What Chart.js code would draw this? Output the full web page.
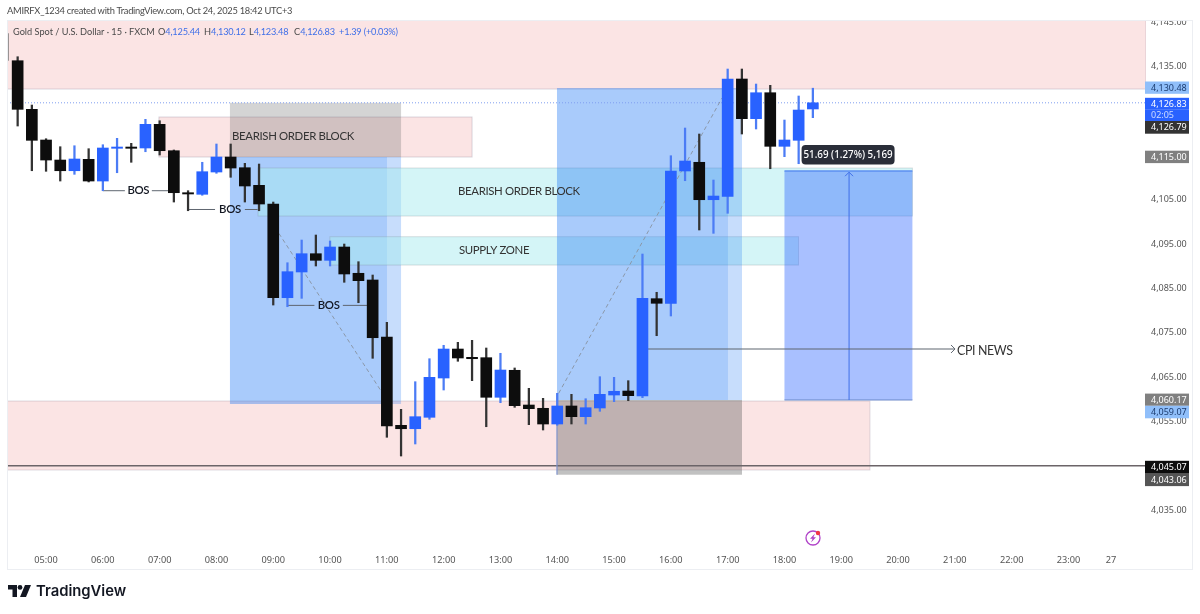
<!DOCTYPE html>
<html>
<head>
<meta charset="utf-8">
<title>Gold Spot / U.S. Dollar</title>
<script src="https://cdn.jsdelivr.net/npm/chart.js@4"></script>
<style>
    html, body { margin: 0; background: #fff; }
    #wrap { position: relative; width: 1200px; height: 614px; overflow: hidden; font-family: Lato, sans-serif; }
    canvas { position: absolute; left: 0; top: 0; }
    .line { position: absolute; white-space: nowrap; }
    #creator { left: 7px; top: 5px; font-size: 9.3px; letter-spacing: -0.25px; color: #4a4a4a; }
    .legend { top: 25.5px; font-size: 9.2px; color: #4a4a4a; }
    .legend b { font-weight: 400; color: #3f6fe8; letter-spacing: -0.2px; }
    #brand { left: 36px; top: 582px; font-family: Inter, sans-serif; font-size: 14.8px; font-weight: 600; color: #131722; }
    #logo { position: absolute; left: 8px; top: 585px; }
</style>
</head>
<body>
<div id="wrap">
    <canvas id="goldChart" width="1200" height="614"></canvas>
    <div class="line" id="creator">AMIRFX_1234 created with TradingView.com, Oct 24, 2025 18:42 UTC+3</div>
    <div class="line legend" style="left:13px">Gold Spot / U.S. Dollar · 15 · FXCM</div>
    <div class="line legend" style="left:158px">O<b>4,125.44</b></div>
    <div class="line legend" style="left:204px">H<b>4,130.12</b></div>
    <div class="line legend" style="left:249px">L<b>4,123.48</b></div>
    <div class="line legend" style="left:294px">C<b>4,126.83</b></div>
    <div class="line legend" style="left:339px"><b>+1.39 (+0.03%)</b></div>
    <svg id="logo" width="23" height="12" viewBox="0 0 23 12"><path d="M0 0h9v12H4.5V4.5H0z" fill="#131722"/><circle cx="12" cy="2.4" r="2.4" fill="#131722"/><path d="M17 0h6l-5 12h-6z" fill="#131722"/></svg>
    <div class="line" id="brand">TradingView</div>
</div>
<script>
const candleIndex = [0,1,2,3,4,5,6,7,8,9,10,11,12,13,14,15,16,17,18,19,20,21,22,23,24,25,26,27,28,29,30,31,32,33,34,35,36,37,38,39,40,41,42,43,44,45,46,47,48,49,50,51,52,53,54,55,56];
const opens = [4136.31,4125.36,4118.45,4113.94,4111.53,4114.10,4109.21,4116.58,4116.87,4116.65,4121.98,4116.04,4106.58,4106.22,4111.24,4114.62,4112.21,4108.24,4104.03,4082.93,4088.72,4092.84,4091.35,4094.35,4088.43,4086.92,4074.08,4054.19,4053.42,4055.99,4064.84,4071.37,4069.50,4069.42,4060.50,4066.58,4058.76,4058.02,4054.48,4058.54,4056.13,4058.09,4061.01,4061.91,4060.79,4082.71,4081.67,4111.47,4113.43,4105.00,4105.77,4132.19,4123.25,4129.10,4117.03,4118.38,4125.44];
const highs = [4137.21,4126.33,4118.74,4116.94,4117.16,4116.49,4117.39,4118.83,4117.70,4123.11,4122.79,4116.20,4107.03,4113.43,4117.55,4117.55,4113.20,4113.04,4104.48,4090.81,4095.92,4097.05,4095.70,4095.02,4091.04,4088.04,4077.39,4057.79,4064.01,4069.19,4072.21,4072.88,4073.33,4071.60,4070.41,4067.10,4062.52,4060.27,4061.40,4061.17,4060.18,4065.14,4065.00,4064.24,4092.77,4084.15,4114.91,4121.15,4119.80,4109.44,4134.44,4134.44,4131.06,4130.77,4122.95,4128.36,4130.12];
const lows = [4121.60,4111.53,4111.40,4109.21,4110.72,4109.00,4107.03,4111.08,4113.43,4115.81,4115.07,4104.48,4102.52,4106.00,4110.95,4110.05,4104.48,4102.52,4081.28,4080.90,4082.79,4090.07,4090.07,4086.40,4081.80,4069.28,4051.49,4047.27,4049.98,4055.54,4062.14,4068.61,4064.24,4053.87,4059.28,4058.24,4054.33,4053.13,4054.20,4054.48,4054.48,4057.34,4059.51,4059.73,4060.41,4074.37,4078.81,4109.28,4098.18,4097.43,4101.94,4119.80,4120.93,4111.98,4114.69,4113.11,4123.48];
const closes = [4125.36,4118.38,4113.94,4111.53,4114.17,4109.21,4116.65,4116.87,4116.58,4121.98,4116.04,4106.58,4106.29,4111.31,4114.62,4112.14,4108.09,4104.03,4082.93,4088.79,4092.84,4091.35,4094.35,4088.27,4086.76,4073.92,4054.03,4053.42,4056.13,4065.00,4071.37,4069.35,4069.19,4060.50,4066.64,4058.61,4057.93,4054.48,4058.54,4056.13,4058.15,4061.17,4061.85,4060.86,4082.79,4081.67,4111.47,4113.72,4105.00,4105.83,4132.19,4123.25,4129.10,4117.03,4118.45,4125.20,4126.83];

const timeTicks = [2,6,10,14,18,22,26,30,34,38,42,46,50,54,58,62,66,70,74,77];
const timeLabels = ['05:00','06:00','07:00','08:00','09:00','10:00','11:00','12:00','13:00','14:00','15:00','16:00','17:00','18:00','19:00','20:00','21:00','22:00','23:00','27'];
const priceTicks = [4145,4135,4105,4095,4085,4075,4065,4055,4035];

// drawings, in bar index and price: x0, x1, price top, price bottom, fill, edge
const zones = [
    [-0.75, 79.46, 4146, 4129.93, 'rgba(225,50,50,0.13)', 'rgba(150,140,160,0.35)'],
    [-0.75, 60.02, 4059.66, 4044.12, 'rgba(225,50,50,0.13)', 'rgba(150,140,160,0.3)'],
    [9.95, 32, 4123.63, 4114.62, 'rgba(225,50,50,0.13)', 'rgba(150,140,160,0.35)'],
    [14.95, 27, 4114.62, 4058.99, 'rgba(33,120,243,0.25)', null],
    [14.95, 26.01, 4114.62, 4058.99, 'rgba(33,120,243,0.18)', null],
    [16.93, 63.01, 4112.14, 4101.33, 'rgba(169,235,239,0.5)', 'rgba(120,130,140,0.25)'],
    [21.99, 54.99, 4096.67, 4090.29, 'rgba(169,235,239,0.5)', 'rgba(120,130,140,0.25)'],
    [37.98, 51.01, 4130.16, 4059.89, 'rgba(33,120,243,0.25)', null],
    [37.98, 50.02, 4130.16, 4059.89, 'rgba(33,120,243,0.18)', null],
    [14.95, 27, 4126.83, 4114.62, 'rgba(100,100,100,0.28)', null],
    [37.98, 51.01, 4059.89, 4043.06, 'rgba(100,100,100,0.4)', null],
    [54, 63.01, 4111.47, 4059.89, 'rgba(41,98,255,0.4)', null]
];
// x0, price0, x1, price1, colour, width, dash
const segments = [
    [-0.75, 4126.83, 79.46, 4126.83, '#7f9ff0', 1, [1, 2]],
    [-0.75, 4045.07, 79.46, 4045.07, '#6b6468', 1.6, []],
    [-0.68, 4142.5, -0.68, 4136.3, '#777', 1.5, []],
    [18.4, 4097.4, 25.9, 4060.4, '#8a97a8', 1, [4, 3]],
    [38.1, 4061.4, 49.6, 4127.9, '#8a97a8', 1, [4, 3]],
    [37.98, 4061.4, 37.98, 4043.06, '#7f93cc', 1.2, []],
    [54, 4111.47, 63.01, 4111.47, '#5b8ff0', 1.5, []],
    [54, 4059.89, 63.01, 4059.89, '#6a86c8', 1, []],
    [58.55, 4111.2, 58.55, 4059.89, '#3f6fe8', 1, []],
    [44.39, 4071.38, 66.01, 4071.38, '#5f6670', 1.2, []],
    [6, 4107.03, 7.55, 4107.03, '#5f6670', 1, []],
    [9.45, 4107.03, 10.95, 4107.03, '#5f6670', 1, []],
    [12, 4102.8, 13.9, 4102.8, '#5f6670', 1, []],
    [16, 4102.8, 16.9, 4102.8, '#5f6670', 1, []],
    [19, 4081.2, 20.9, 4081.2, '#5f6670', 1, []],
    [22.9, 4081.2, 24.6, 4081.2, '#5f6670', 1, []],
    [12, 4107, 12, 4102.8, '#5f6670', 1, []],
    [19, 4083, 19, 4081.2, '#5f6670', 1, []]
];
// text, x, price, align, font, colour
const notes = [
    ['BEARISH ORDER BLOCK', 15.1, 4119.3, 'left', '11.4px Lato', '#333'],
    ['BEARISH ORDER BLOCK', 35.3, 4106.8, 'center', '11.4px Lato', '#333'],
    ['SUPPLY ZONE', 33.55, 4093.5, 'center', '11.4px Lato', '#333'],
    ['BOS', 8.5, 4107.1, 'center', '600 11.4px Lato', '#131722'],
    ['BOS', 14.95, 4102.8, 'center', '600 11.4px Lato', '#131722'],
    ['BOS', 21.9, 4081.2, 'center', '600 11.4px Lato', '#131722'],
    ['CPI NEWS', 66.15, 4071, 'left', '12.4px Lato', '#333']
];
// price tag label, pixel box top and height on the axis
const priceTags = [
    ['4,130.48', 81.5, 12.3, '#90bffa', '#1c3c70'],
    ['4,126.83', 97.8, 12, '#2962ff', '#fff'],
    ['02:05', 109.8, 11.2, '#2962ff', '#cfdcff'],
    ['4,126.79', 121, 12.7, '#333', '#fff'],
    ['4,115.00', 150.7, 12.4, '#808080', '#fff'],
    ['4,060.17', 393.6, 12.2, '#808080', '#fff'],
    ['4,059.07', 405.8, 12.5, '#90bffa', '#1c3c70'],
    ['4,045.07', 460.8, 12.9, '#0c0c0c', '#fff'],
    ['4,043.06', 473.7, 12.4, '#555', '#fff']
];

const BLUE = '#2962ff';
const BLACK = '#0d0d0d';
const isUp = i => closes[i] >= opens[i];
const candleColor = ctx => isUp(ctx.dataIndex) ? BLUE : BLACK;

const drawingsPlugin = {
    id: 'drawings',
    beforeDatasetsDraw(chart) {
        const c = chart.ctx, x = chart.scales.x, y = chart.scales.y, a = chart.chartArea;
        c.save();
        c.beginPath();
        c.rect(a.left, a.top, a.width, a.height);
        c.clip();
        zones.forEach(z => {
            const l = x.getPixelForValue(z[0]), r = x.getPixelForValue(z[1]);
            const t = y.getPixelForValue(z[2]), b = y.getPixelForValue(z[3]);
            c.fillStyle = z[4];
            c.fillRect(l, t, r - l, b - t);
            if (z[5]) {
                c.strokeStyle = z[5];
                c.lineWidth = 1;
                c.strokeRect(l, t, r - l, b - t);
            }
        });
        segments.forEach(s => {
            c.beginPath();
            c.strokeStyle = s[4];
            c.lineWidth = s[5];
            c.setLineDash(s[6]);
            c.moveTo(x.getPixelForValue(s[0]), y.getPixelForValue(s[1]));
            c.lineTo(x.getPixelForValue(s[2]), y.getPixelForValue(s[3]));
            c.stroke();
        });
        c.setLineDash([]);
        // arrow heads
        const px = x.getPixelForValue(58.55), py = y.getPixelForValue(4111.2);
        const qx = x.getPixelForValue(66.01), qy = y.getPixelForValue(4071.38);
        c.strokeStyle = '#3f6fe8';
        c.lineWidth = 1;
        c.beginPath();
        c.moveTo(px - 4, py + 4); c.lineTo(px, py); c.lineTo(px + 4, py + 4);
        c.stroke();
        c.strokeStyle = '#5f6670';
        c.beginPath();
        c.moveTo(qx - 4, qy - 4); c.lineTo(qx, qy); c.lineTo(qx - 4, qy + 4);
        c.stroke();
        c.textBaseline = 'middle';
        c.letterSpacing = '-0.35px';
        notes.forEach(n => {
            c.font = n[4];
            c.fillStyle = n[5];
            c.textAlign = n[3];
            c.fillText(n[0], x.getPixelForValue(n[1]), y.getPixelForValue(n[2]));
        });
        c.letterSpacing = '0px';
        c.restore();
    },
    afterDraw(chart) {
        const c = chart.ctx, x = chart.scales.x, y = chart.scales.y, a = chart.chartArea;
        c.save();
        // the top axis label is cut by the pane edge
        c.fillStyle = '#fff';
        c.fillRect(a.right, 0, 54, a.top);
        c.strokeStyle = '#eceef2';
        c.lineWidth = 1;
        c.strokeRect(a.left + 0.5, a.top + 0.5, 1192 - a.left, 549);
        c.font = '9px "Noto Sans"';
        c.textBaseline = 'middle';
        c.textAlign = 'left';
        priceTags.forEach(t => {
            c.fillStyle = t[3];
            c.fillRect(a.right - 1, t[1], 44, t[2]);
            c.fillStyle = t[4];
            c.fillText(t[0], a.right + 5, t[1] + t[2] / 2 + 0.5);
        });
        // position tooltip
        const tipX = x.getPixelForValue(58.55), tipY = y.getPixelForValue(4115.07);
        c.fillStyle = '#2a2e39';
        c.beginPath();
        c.roundRect(tipX - 47.5, tipY - 10, 93, 19.5, 4);
        c.fill();
        c.fillStyle = '#fff';
        c.font = '500 9.8px "Noto Sans"';
        c.textAlign = 'center';
        c.fillText('51.69 (1.27%) 5,169', tipX - 1, tipY + 0.5);
        // economic event badge
        c.strokeStyle = '#b042c8';
        c.lineWidth = 1.3;
        c.beginPath();
        c.arc(813, 538, 7, 0, Math.PI * 2);
        c.stroke();
        c.fillStyle = '#b042c8';
        c.beginPath();
        c.moveTo(815, 533.5); c.lineTo(810, 538.8); c.lineTo(812.6, 538.8);
        c.lineTo(811, 542.5); c.lineTo(816, 537.2); c.lineTo(813.4, 537.2);
        c.closePath();
        c.fill();
        c.fillStyle = '#f23645';
        c.beginPath();
        c.arc(818, 533, 2.2, 0, Math.PI * 2);
        c.fill();
        c.restore();
    }
};

new Chart(document.getElementById('goldChart').getContext('2d'), {
    type: 'bar',
    data: {
        datasets: [
            {
                label: 'Wick',
                data: candleIndex.map(i => ({ x: i, y: [lows[i], highs[i]] })),
                backgroundColor: ctx => isUp(ctx.dataIndex) ? '#4c7cf5' : '#333',
                barThickness: 1.6,
                grouped: false,
                order: 2
            },
            {
                label: 'Body',
                data: candleIndex.map(i => ({ x: i, y: [opens[i], closes[i]] })),
                backgroundColor: candleColor,
                barThickness: 11,
                grouped: false,
                order: 1
            }
        ]
    },
    options: {
        responsive: false,
        animation: false,
        events: [],
        layout: { padding: { left: 7, top: 20, right: 0, bottom: 0 } },
        plugins: { legend: { display: false }, tooltip: { enabled: false } },
        scales: {
            x: {
                type: 'linear',
                min: -0.75,
                max: 79.46,
                offset: false,
                grid: { display: false, drawTicks: false },
                border: { display: false },
                afterBuildTicks(axis) { axis.ticks = timeTicks.map(v => ({ value: v })); },
                afterFit(axis) { axis.height = 73; },
                ticks: {
                    autoSkip: false,
                    maxRotation: 0,
                    padding: 14,
                    color: '#555',
                    font: { family: 'Noto Sans', size: 9.2 },
                    callback: v => timeLabels[timeTicks.indexOf(v)]
                }
            },
            y: {
                position: 'right',
                min: 4028.13,
                max: 4145.48,
                grid: { display: false, drawTicks: false },
                border: { display: false },
                afterBuildTicks(axis) { axis.ticks = priceTicks.map(v => ({ value: v })); },
                afterFit(axis) { axis.width = 54; },
                ticks: {
                    autoSkip: false,
                    padding: 5,
                    color: '#555',
                    font: { family: 'Noto Sans', size: 9 },
                    callback: v => v.toLocaleString('en-US', { minimumFractionDigits: 2 })
                }
            }
        }
    },
    plugins: [drawingsPlugin]
});
</script>
</body>
</html>
